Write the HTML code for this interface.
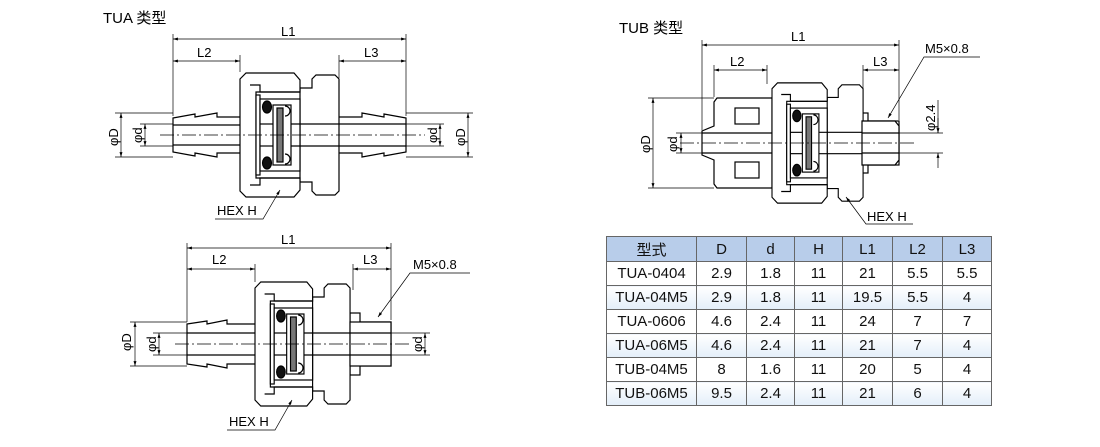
<!DOCTYPE html>
<html><head><meta charset="utf-8"><style>
html,body{margin:0;padding:0;background:#fff;}
body{width:1100px;height:447px;position:relative;overflow:hidden;font-family:"Liberation Sans","Noto Sans CJK SC",sans-serif;}
svg{position:absolute;left:0;top:0;}
table{position:absolute;left:606px;top:236px;border-collapse:collapse;font-size:15px;color:#111;border:1.5px solid #333;}
td{border:1px solid #666;text-align:center;height:23px;padding:0;}
tr.h td{background:#b8cdea;height:24px;}
tr.a td{background:linear-gradient(#ffffff,#e3eef9);}
</style></head><body>
<svg width="1100" height="447" viewBox="0 0 1100 447">
<defs>
<marker id="ar" viewBox="0 0 10 10" refX="10" refY="5" markerWidth="7" markerHeight="7" orient="auto-start-reverse"><path d="M0,2 L10,5 L0,8 Z" fill="#000"/></marker>
<g id="core" stroke="#000" stroke-width="1.2" fill="#fff">
 <path d="M60,-47 L72,-47 L72,-56 L76,-60 L95,-60 L99,-56 L99,56 L95,60 L76,60 L72,56 L72,47 L60,47 Z"/>
 <path d="M0,-56 L6,-62 L54,-62 L60,-55 L60,-43 L16,-43 L16,43 L60,43 L60,55 L54,62 L6,62 L0,56 Z"/>
 <path d="M10,-50 L20,-50 L20,-43 L60,-43" fill="none"/>
 <path d="M10,50 L20,50 L20,43 L60,43" fill="none"/>
 <rect x="16" y="-40" width="4" height="80"/>
 <rect x="20" y="-36" width="40" height="72"/>
 <ellipse cx="27" cy="-28" rx="4.5" ry="6" fill="#111"/>
 <ellipse cx="27" cy="28" rx="4.5" ry="6" fill="#111"/>
 <rect x="33" y="-30" width="18" height="60" fill="#fff"/>
 <rect x="37" y="-27" width="6" height="54" fill="#777"/>
 <path d="M45,-29 A5,5 0 0 1 45,-19" fill="none"/>
 <path d="M45,19 A5,5 0 0 1 45,29" fill="none"/>
 <line x1="51" y1="-11" x2="99" y2="-11"/><line x1="51" y1="11" x2="99" y2="11"/>
 <line x1="20" y1="-11" x2="33" y2="-11"/><line x1="20" y1="11" x2="33" y2="11"/>
</g>
</defs>
<g font-size="15" fill="#000">
<text x="103" y="23">TUA 类型</text>
<text x="619" y="33">TUB 类型</text>
</g>

<!-- TUA top -->
<g stroke="#000" stroke-width="1.2" fill="#fff">
<path d="M173,118 L195,114 L195,117 L217,113 L217,117 L241,117 L241,153 L217,153 L217,157 L195,153 L195,156 L173,152 Z"/>
<path d="M406,118 L384,114 L384,117 L362,113 L362,117 L338,117 L338,153 L362,153 L362,157 L384,153 L384,156 L406,152 Z"/>
<line x1="173" y1="125" x2="256" y2="125"/><line x1="173" y1="145" x2="256" y2="145"/>
<line x1="339" y1="124" x2="406" y2="124"/><line x1="339" y1="146" x2="406" y2="146"/>
</g>
<use href="#core" x="240" y="135"/>
<g stroke="#000" stroke-width="0.7" fill="none">
<line x1="160" y1="135" x2="425" y2="135" stroke-dasharray="14,3,2,3"/>
<line x1="173" y1="34" x2="173" y2="116"/><line x1="406" y1="34" x2="406" y2="116"/>
<line x1="240" y1="55" x2="240" y2="72"/><line x1="339" y1="55" x2="339" y2="78"/>
<line x1="173" y1="39" x2="406" y2="39" marker-start="url(#ar)" marker-end="url(#ar)"/>
<line x1="173" y1="61" x2="240" y2="61" marker-start="url(#ar)" marker-end="url(#ar)"/>
<line x1="339" y1="61" x2="406" y2="61" marker-start="url(#ar)" marker-end="url(#ar)"/>
<line x1="115" y1="113" x2="173" y2="113"/><line x1="115" y1="157" x2="173" y2="157"/>
<line x1="140" y1="124" x2="173" y2="124"/><line x1="140" y1="146" x2="173" y2="146"/>
<line x1="121" y1="113" x2="121" y2="157" marker-start="url(#ar)" marker-end="url(#ar)"/>
<line x1="145" y1="124" x2="145" y2="146" marker-start="url(#ar)" marker-end="url(#ar)"/>
<line x1="406" y1="113" x2="473" y2="113"/><line x1="406" y1="157" x2="473" y2="157"/>
<line x1="406" y1="124" x2="444" y2="124"/><line x1="406" y1="146" x2="444" y2="146"/>
<line x1="440" y1="124" x2="440" y2="146" marker-start="url(#ar)" marker-end="url(#ar)"/>
<line x1="468" y1="113" x2="468" y2="157" marker-start="url(#ar)" marker-end="url(#ar)"/>
<polyline points="215,219 263,219 280,190" marker-end="url(#ar)"/>
</g>
<g font-size="13" fill="#000">
<text x="281" y="36">L1</text><text x="197" y="57">L2</text><text x="364" y="57">L3</text>
<text x="217" y="215">HEX H</text>
<text transform="translate(118,146) rotate(-90)">φD</text>
<text transform="translate(142,143) rotate(-90)">φd</text>
<text transform="translate(437,143) rotate(-90)">φd</text>
<text transform="translate(465,146) rotate(-90)">φD</text>
</g>

<!-- TUA bottom -->
<g stroke="#000" stroke-width="1.2" fill="#fff">
<path d="M187,324 L207,321 L207,324 L227,320 L227,324 L256,324 L256,364 L227,364 L227,368 L207,364 L207,367 L187,364 Z"/>
<rect x="345" y="322" width="46" height="44"/>
<rect x="350" y="313" width="10" height="62"/>
<line x1="187" y1="333" x2="270" y2="333"/><line x1="187" y1="355" x2="270" y2="355"/>
</g>
<g transform="translate(255,344) scale(0.96,1)"><use href="#core"/></g>
<g stroke="#000" stroke-width="1.2" fill="#fff"><rect x="350" y="322" width="41" height="44"/><line x1="350" y1="333" x2="391" y2="333"/><line x1="350" y1="355" x2="391" y2="355"/></g>
<g stroke="#000" stroke-width="0.7" fill="none">
<line x1="175" y1="344" x2="410" y2="344" stroke-dasharray="14,3,2,3"/>
<line x1="187" y1="243" x2="187" y2="322"/><line x1="391" y1="243" x2="391" y2="320"/>
<line x1="255" y1="264" x2="255" y2="282"/><line x1="353" y1="264" x2="353" y2="290"/>
<line x1="187" y1="248" x2="391" y2="248" marker-start="url(#ar)" marker-end="url(#ar)"/>
<line x1="187" y1="269" x2="255" y2="269" marker-start="url(#ar)" marker-end="url(#ar)"/>
<line x1="353" y1="269" x2="391" y2="269" marker-start="url(#ar)" marker-end="url(#ar)"/>
<line x1="130" y1="322" x2="187" y2="322"/><line x1="130" y1="366" x2="187" y2="366"/>
<line x1="153" y1="333" x2="187" y2="333"/><line x1="153" y1="355" x2="187" y2="355"/>
<line x1="135" y1="322" x2="135" y2="366" marker-start="url(#ar)" marker-end="url(#ar)"/>
<line x1="159" y1="333" x2="159" y2="355" marker-start="url(#ar)" marker-end="url(#ar)"/>
<line x1="391" y1="333" x2="430" y2="333"/><line x1="391" y1="355" x2="430" y2="355"/>
<line x1="425" y1="333" x2="425" y2="355" marker-start="url(#ar)" marker-end="url(#ar)"/>
<polyline points="470,273 410,273 378,317" marker-end="url(#ar)"/>
<polyline points="227,430 275,430 292,400" marker-end="url(#ar)"/>
</g>
<g font-size="13" fill="#000">
<text x="281" y="244">L1</text><text x="212" y="264">L2</text><text x="363" y="264">L3</text>
<text x="413" y="269">M5×0.8</text>
<text x="229" y="426">HEX H</text>
<text transform="translate(131,351) rotate(-90)">φD</text>
<text transform="translate(156,352) rotate(-90)">φd</text>
<text transform="translate(422,352) rotate(-90)">φd</text>
</g>

<!-- TUB -->
<g stroke="#000" stroke-width="1.2" fill="#fff">
<path d="M717,98 L772,98 L772,188 L717,188 L714,184 L714,160 L702,155 L702,131 L714,126 L714,102 Z"/>
<rect x="735" y="108" width="24" height="16"/><rect x="735" y="162" width="24" height="16"/>
<line x1="702" y1="133" x2="775" y2="133"/><line x1="702" y1="153" x2="775" y2="153"/>
<rect x="858" y="121" width="41" height="44"/>
<rect x="860" y="113" width="8" height="60"/>
</g>
<g transform="translate(772,143) scale(0.92,0.97)"><use href="#core"/></g>
<g stroke="#000" stroke-width="1.2" fill="#fff"><path d="M862,121 L895,121 L899,126 L899,160 L895,165 L862,165 Z"/><line x1="862" y1="133" x2="899" y2="133"/><line x1="862" y1="153" x2="899" y2="153"/></g>
<g stroke="#000" stroke-width="0.7" fill="none">
<line x1="680" y1="143" x2="915" y2="143" stroke-dasharray="14,3,2,3"/>
<line x1="702" y1="40" x2="702" y2="130"/><line x1="899" y1="40" x2="899" y2="120"/>
<line x1="714" y1="65" x2="714" y2="97"/><line x1="767" y1="65" x2="767" y2="84"/><line x1="863" y1="65" x2="863" y2="90"/>
<line x1="702" y1="45" x2="899" y2="45" marker-start="url(#ar)" marker-end="url(#ar)"/>
<line x1="714" y1="70" x2="767" y2="70" marker-start="url(#ar)" marker-end="url(#ar)"/>
<line x1="863" y1="70" x2="899" y2="70" marker-start="url(#ar)" marker-end="url(#ar)"/>
<line x1="648" y1="98" x2="714" y2="98"/><line x1="648" y1="188" x2="714" y2="188"/>
<line x1="676" y1="133" x2="702" y2="133"/><line x1="676" y1="153" x2="702" y2="153"/>
<line x1="653" y1="98" x2="653" y2="188" marker-start="url(#ar)" marker-end="url(#ar)"/>
<line x1="681" y1="133" x2="681" y2="153" marker-start="url(#ar)" marker-end="url(#ar)"/>
<line x1="899" y1="133" x2="943" y2="133"/><line x1="899" y1="153" x2="943" y2="153"/>
<line x1="938" y1="100" x2="938" y2="133"/>
<line x1="938" y1="118" x2="938" y2="133" marker-end="url(#ar)"/>
<line x1="938" y1="168" x2="938" y2="153" marker-end="url(#ar)"/>
<polyline points="980,57 924,57 888,118" marker-end="url(#ar)"/>
<polyline points="913,224 866,224 846,197" marker-end="url(#ar)"/>
</g>
<g font-size="13" fill="#000">
<text x="791" y="41">L1</text><text x="730" y="66">L2</text><text x="873" y="66">L3</text>
<text x="925" y="53">M5×0.8</text>
<text x="867" y="221">HEX H</text>
<text transform="translate(650,153) rotate(-90)">φD</text>
<text transform="translate(677,152) rotate(-90)">φd</text>
<text transform="translate(935,131) rotate(-90)">φ2.4</text>
</g>
</svg>
<table>
<tr class="h"><td style="width:89px">型式</td><td style="width:49px">D</td><td style="width:47px">d</td><td style="width:47px">H</td><td style="width:49px">L1</td><td style="width:49px">L2</td><td style="width:48px">L3</td></tr>
<tr><td>TUA-0404</td><td>2.9</td><td>1.8</td><td>11</td><td>21</td><td>5.5</td><td>5.5</td></tr>
<tr class="a"><td>TUA-04M5</td><td>2.9</td><td>1.8</td><td>11</td><td>19.5</td><td>5.5</td><td>4</td></tr>
<tr><td>TUA-0606</td><td>4.6</td><td>2.4</td><td>11</td><td>24</td><td>7</td><td>7</td></tr>
<tr class="a"><td>TUA-06M5</td><td>4.6</td><td>2.4</td><td>11</td><td>21</td><td>7</td><td>4</td></tr>
<tr><td>TUB-04M5</td><td>8</td><td>1.6</td><td>11</td><td>20</td><td>5</td><td>4</td></tr>
<tr class="a"><td>TUB-06M5</td><td>9.5</td><td>2.4</td><td>11</td><td>21</td><td>6</td><td>4</td></tr>
</table>
</body></html>
